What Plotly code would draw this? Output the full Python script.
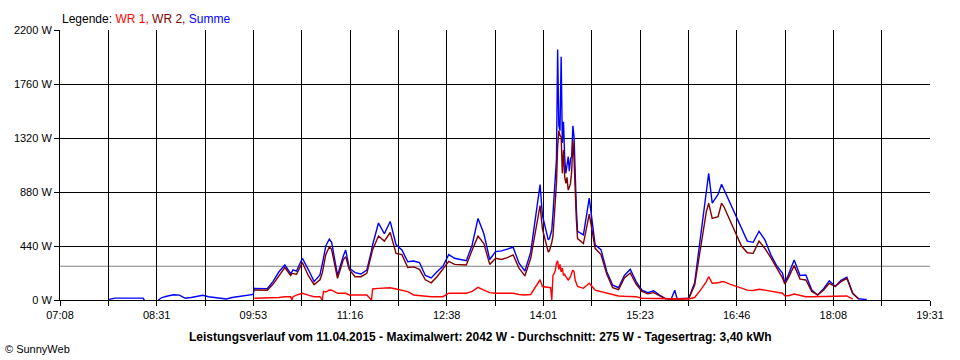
import plotly.graph_objects as go

# ---- data ----
TIMES = [
    "07:50", "07:55", "08:00", "08:05", "08:10", "08:15", "08:19", "08:20", "08:25", "08:30",
    "08:32", "08:35", "08:40", "08:45", "08:50", "08:55", "09:00", "09:05", "09:10", "09:15",
    "09:20", "09:25", "09:30", "09:35", "09:40", "09:45", "09:50", "09:53",
    "09:54", "09:55", "10:00", "10:05", "10:10", "10:15", "10:20", "10:25", "10:26", "10:27",
    "10:30", "10:35", "10:40", "10:45", "10:50", "10:52", "10:53", "10:55", "10:58", "11:00",
    "11:05", "11:10", "11:12", "11:15", "11:20", "11:25", "11:30", "11:34", "11:35", "11:40",
    "11:45", "11:50", "11:55", "12:00", "12:05", "12:10", "12:15", "12:20", "12:25", "12:30",
    "12:35", "12:40", "12:45", "12:50", "12:55", "13:00", "13:05", "13:10", "13:15", "13:20",
    "13:25", "13:30", "13:35", "13:40", "13:45", "13:50", "13:55", "13:58", "14:00", "14:05",
    "14:06", "14:07", "14:08", "14:09", "14:10", "14:11", "14:12", "14:13", "14:14", "14:15",
    "14:16", "14:17", "14:18", "14:19", "14:20", "14:21", "14:22", "14:23", "14:24", "14:25",
    "14:26", "14:27", "14:28", "14:29", "14:30", "14:35", "14:40", "14:45", "14:50", "14:55",
    "15:00", "15:05", "15:10", "15:15", "15:20", "15:25", "15:30", "15:35", "15:40", "15:45",
    "15:50", "15:53", "15:55", "16:00", "16:05", "16:10", "16:15", "16:20", "16:22", "16:25",
    "16:30", "16:33", "16:35", "16:40", "16:45", "16:50", "16:55", "17:00", "17:05", "17:10",
    "17:15", "17:20", "17:25", "17:27", "17:30", "17:35", "17:40", "17:45", "17:50", "17:55",
    "18:00", "18:05", "18:10", "18:15", "18:20", "18:25", "18:30", "18:35", "18:37",
]

SUMME = [
    5, 15, 15, 15, 15, 15, 15, 0, None, None,
    0, 20, 33, 43, 40, 14, 20, 27, 38, 27,
    19, 14, 8, 20, 27, 38, 43, 45,
    95, 95, 95, 92, 152, 230, 285, 215, 228, 245,
    235, 340, 250, 150, 204, 280, 340, 440, 497, 470,
    200, 360, 407, 261, 223, 212, 244, 400, 450, 627,
    540, 640, 450, 407, 312, 318, 305, 200, 180, 230,
    275, 370, 340, 330, 320, 448, 665, 540, 330, 394,
    400, 415, 430, 300, 235, 390, 750, 940, 690, 490,
    500, 530, 570, 700, 850, 951, 1150, 2042, 1420, 1380,
    1982, 1280, 1453, 1168, 1032, 1100, 1168, 1050, 1150, 1170,
    1420, 1330, 1000, 740, 560, 530, 830, 450, 410, 230,
    120, 100, 200, 250, 150, 80, 60, 75, 40, 12,
    8, 80, 10, 10, 15, 140, 500, 850, 1032, 790,
    860, 943, 900, 790, 680, 575, 480, 470, 560, 490,
    370, 280, 220, 140, 204, 326, 200, 204, 81, 41,
    90, 157, 110, 160, 185, 55, 10, 5, 5,
]

WR2 = [
    None, None, None, None, None, None, None, None, None, None,
    None, None, None, None, None, None, None, None, None, None,
    None, None, None, None, None, None, None, None,
    81, 81, 81, 80, 130, 200, 265, 200, 215, 215,
    210, 305, 200, 125, 165, 220, 270, 370, 434, 410,
    177, 330, 353, 250, 190, 190, 217, 370, 410, 521,
    480, 550, 380, 370, 265, 270, 250, 165, 140, 190,
    255, 315, 290, 290, 285, 407, 520, 460, 290, 340,
    330, 345, 367, 260, 196, 340, 620, 770, 580, 390,
    400, 430, 470, 520, 700, 850, 951, 1250, 1380, 1340,
    1331, 1032, 1222, 1005, 950, 1000, 896, 920, 950, 1050,
    1300, 1150, 842, 650, 500, 460, 700, 421, 370, 210,
    100, 85, 180, 220, 130, 70, 50, 60, 35, 10,
    8, 10, 8, 8, 14, 120, 440, 720, 788, 665,
    679, 788, 760, 650, 540, 440, 385, 380, 480, 420,
    345, 265, 180, 130, 180, 280, 170, 163, 70, 41,
    80, 136, 110, 150, 177, 55, 8, None, None,
]

WR1 = [
    None, None, None, None, None, None, None, None, None, None,
    None, None, None, None, None, None, None, None, None, None,
    None, None, None, None, None, None, None, None,
    14, 14, 14, 14, 14, 20, 27, 27, 0, 27,
    40, 55, 40, 27, 27, 0, 70, 65, 81, 80,
    55, 55, 55, 41, 41, 41, 41, 0, 90, 95,
    95, 100, 90, 80, 68, 41, 35, 27, 27, 27,
    27, 55, 55, 50, 55, 70, 103, 80, 60, 55,
    55, 55, 55, 45, 41, 45, 120, 165, 110, 100,
    100, 100, 0, 200, 217, 240, 300, 320, 250, 290,
    230, 260, 200, 210, 190, 170, 163, 175, 190, 220,
    244, 230, 160, 136, 110, 95, 136, 81, 70, 55,
    45, 33, 30, 27, 27, 14, 14, 12, 8, 8,
    8, 8, 8, 8, 8, 20, 80, 150, 190, 136,
    140, 149, 150, 130, 115, 95, 80, 78, 87, 80,
    70, 60, 55, 35, 35, 49, 40, 27, 27, 27,
    27, 27, 27, 30, 33, 8, None, None, None,
]

AVERAGE_W = 275
Y_TICKS = [0, 440, 880, 1320, 1760, 2200]
X_TICK_LABELS = ["07:08", "08:31", "09:53", "11:16", "12:38", "14:01", "15:23", "16:46", "18:08", "19:31"]
TITLE = "Leistungsverlauf vom 11.04.2015 - Maximalwert: 2042 W - Durchschnitt: 275 W - Tagesertrag: 3,40 kWh"


def to_min(s):
    h, m = s.split(":")
    return int(h) * 60 + int(m)


x = [to_min(t) for t in TIMES]
x_start = to_min(X_TICK_LABELS[0])
x_end = to_min(X_TICK_LABELS[-1])
n_int = 2 * (len(X_TICK_LABELS) - 1)
x_tickvals = [x_start + (x_end - x_start) * k / n_int for k in range(n_int + 1)]
x_ticktext = [X_TICK_LABELS[k // 2] if k % 2 == 0 else "" for k in range(n_int + 1)]

FONT = "Liberation Sans, Arial, sans-serif"

fig = go.Figure()
fig.add_trace(go.Scatter(x=x, y=SUMME, mode="lines", name="Summe",
                         line=dict(color="#0000FF", width=1.4)))
fig.add_trace(go.Scatter(x=x, y=WR2, mode="lines", name="WR 2",
                         line=dict(color="#800000", width=1.4)))
fig.add_trace(go.Scatter(x=x, y=WR1, mode="lines", name="WR 1",
                         line=dict(color="#FF0000", width=1.4)))

fig.add_hline(y=AVERAGE_W, line=dict(color="#808080", width=1), layer="below")

fig.update_layout(
    width=960, height=360,
    margin=dict(l=60, r=30, t=30, b=60),
    paper_bgcolor="white", plot_bgcolor="white",
    showlegend=False,
    font=dict(family=FONT, size=11, color="black"),
)
fig.update_xaxes(
    range=[x_start, x_end], tickvals=x_tickvals, ticktext=x_ticktext,
    showgrid=True, gridcolor="black", gridwidth=1,
    showline=True, linecolor="black", linewidth=1,
    ticks="outside", ticklen=5, tickcolor="black", tickwidth=1,
    zeroline=False, fixedrange=True,
)
fig.update_yaxes(
    range=[0, 2200], tickvals=Y_TICKS, ticktext=[f"{v} W" for v in Y_TICKS],
    showgrid=True, gridcolor="black", gridwidth=1,
    showline=True, linecolor="black", linewidth=1,
    ticks="outside", ticklen=5, tickcolor="black", tickwidth=1,
    zeroline=False, fixedrange=True,
)

fig.add_annotation(
    xref="paper", yref="paper", x=0, y=1.042, xanchor="left", yanchor="middle",
    showarrow=False, font=dict(family=FONT, size=12),
    text="Legende: <span style='color:#FF0000'>WR 1,</span> "
         "<span style='color:#800000'>WR 2,</span> "
         "<span style='color:#0000FF'>Summe</span>",
)
fig.add_annotation(
    xref="paper", yref="paper", x=(480 - 60) / 870, y=-0.137,
    xanchor="center", yanchor="middle", showarrow=False,
    font=dict(family=FONT, size=12), text="<b>" + TITLE + "</b>",
)
fig.add_annotation(
    xref="paper", yref="paper", x=-0.065, y=-0.181,
    xanchor="left", yanchor="middle", showarrow=False,
    font=dict(family=FONT, size=11), text="© SunnyWeb",
)

fig.write_html("out.html", config={"displayModeBar": False},
               post_script="document.body.style.margin='0';document.body.style.overflow='hidden';")
